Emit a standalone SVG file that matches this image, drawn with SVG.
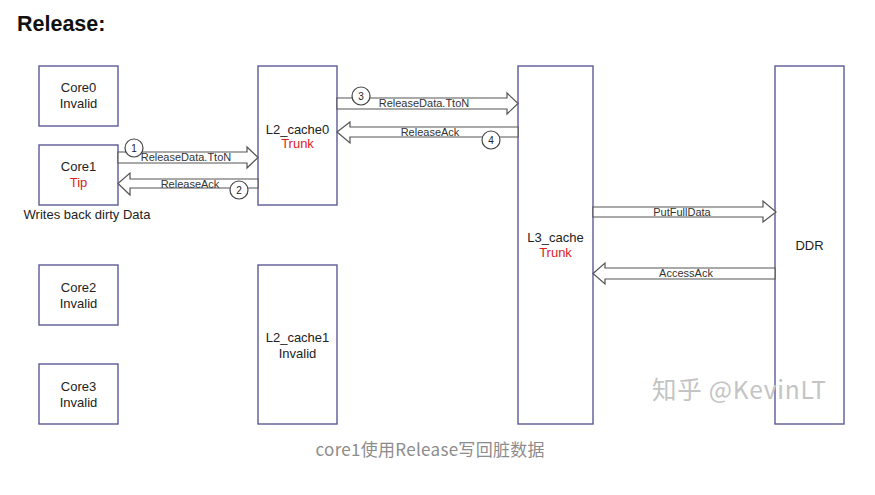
<svg xmlns="http://www.w3.org/2000/svg" width="875" height="495" viewBox="0 0 875 495">
  <style>
    .box { fill: #ffffff; stroke: #5c5a96; stroke-width: 1.4; }
    .lbl { font-family: "Liberation Sans", Arial, sans-serif; font-size: 13px; fill: #222222; text-anchor: middle; }
    .red { fill: #e0221d; }
    .arrow { fill: #ffffff; stroke: #555555; stroke-width: 1.2; stroke-linejoin: miter; }
    .alabel { font-family: "Liberation Sans", Arial, sans-serif; font-size: 11px; fill: #333333; text-anchor: middle; }
    .step circle { fill: #ffffff; stroke: #444444; stroke-width: 1.2; }
    .step text { font-family: "Liberation Sans", Arial, sans-serif; font-size: 10px; fill: #222222; text-anchor: middle; }
  </style>

  <rect width="875" height="495" fill="#ffffff"/>

  <text x="17" y="31" font-family="Liberation Sans, Arial, sans-serif" font-size="21.5" font-weight="bold" fill="#111111">Release:</text>

  <!-- Nodes -->
  <g id="core0">
    <rect class="box" x="39" y="66" width="79" height="60"/>
    <text class="lbl" x="78.5" y="92">Core0</text>
    <text class="lbl" x="78.5" y="108">Invalid</text>
  </g>
  <g id="core1">
    <rect class="box" x="39" y="145" width="79" height="60"/>
    <text class="lbl" x="78.5" y="171">Core1</text>
    <text class="lbl red" x="78.5" y="187">Tip</text>
    <text class="lbl" x="87" y="219">Writes back dirty Data</text>
  </g>
  <g id="core2">
    <rect class="box" x="39" y="265" width="79" height="60"/>
    <text class="lbl" x="78.5" y="292">Core2</text>
    <text class="lbl" x="78.5" y="308">Invalid</text>
  </g>
  <g id="core3">
    <rect class="box" x="39" y="364" width="79" height="60"/>
    <text class="lbl" x="78.5" y="391">Core3</text>
    <text class="lbl" x="78.5" y="407">Invalid</text>
  </g>
  <g id="l2_cache0">
    <rect class="box" x="258" y="66" width="79" height="139"/>
    <text class="lbl" x="297.5" y="134">L2_cache0</text>
    <text class="lbl red" x="297.5" y="148">Trunk</text>
  </g>
  <g id="l2_cache1">
    <rect class="box" x="258" y="265" width="79" height="159"/>
    <text class="lbl" x="297.5" y="342">L2_cache1</text>
    <text class="lbl" x="297.5" y="358">Invalid</text>
  </g>
  <g id="l3_cache">
    <rect class="box" x="518" y="66" width="75" height="358"/>
    <text class="lbl" x="555.5" y="242">L3_cache</text>
    <text class="lbl red" x="555.5" y="257">Trunk</text>
  </g>
  <g id="ddr">
    <rect class="box" x="775" y="66" width="69" height="358"/>
    <text class="lbl" x="809.5" y="250">DDR</text>
  </g>

  <!-- Connectors: hollow block arrows -->
  <g id="connectors">
    <!-- 1: Core1 -> L2_cache0 -->
    <polygon class="arrow" points="118,152 247,152 247,147 258,157.5 247,168 247,163 118,163"/>
    <text class="alabel" x="186" y="161">ReleaseData.TtoN</text>
    <!-- 2: L2_cache0 -> Core1 -->
    <polygon class="arrow" points="258,179 130,179 130,173 118,183.5 130,195 130,188 258,188"/>
    <text class="alabel" x="190" y="188">ReleaseAck</text>
    <!-- 3: L2_cache0 -> L3_cache -->
    <polygon class="arrow" points="337,98 507,98 507,93 518,103.5 507,114 507,109 337,109"/>
    <text class="alabel" x="424" y="107">ReleaseData.TtoN</text>
    <!-- 4: L3_cache -> L2_cache0 -->
    <polygon class="arrow" points="518,127 350,127 350,122 337,132 350,143 350,137 518,137"/>
    <text class="alabel" x="430" y="136">ReleaseAck</text>
    <!-- L3_cache -> DDR -->
    <polygon class="arrow" points="593,207 763,207 763,201 776,212 763,222 763,217 593,217"/>
    <text class="alabel" x="682" y="216">PutFullData</text>
    <!-- DDR -> L3_cache -->
    <polygon class="arrow" points="775,268 605,268 605,263 593,273.5 605,284 605,279 775,279"/>
    <text class="alabel" x="686" y="277">AccessAck</text>

    <g class="step"><circle cx="134" cy="148" r="9"/><text x="134" y="151.5">1</text></g>
    <g class="step"><circle cx="239" cy="190" r="9"/><text x="239" y="193.5">2</text></g>
    <g class="step"><circle cx="361" cy="96" r="9"/><text x="361" y="99.5">3</text></g>
    <g class="step"><circle cx="491" cy="140" r="9"/><text x="491" y="143.5">4</text></g>
  </g>

  <text x="652" y="399" font-family="Noto Sans CJK SC, sans-serif" font-size="24.5" fill="#c4c4c4" textLength="174">知乎 @KevinLT</text>

  <text x="430" y="456" text-anchor="middle" font-family="Noto Sans CJK SC, sans-serif" font-size="17" fill="#8c8c8c" textLength="229">core1使用Release写回脏数据</text>
</svg>
